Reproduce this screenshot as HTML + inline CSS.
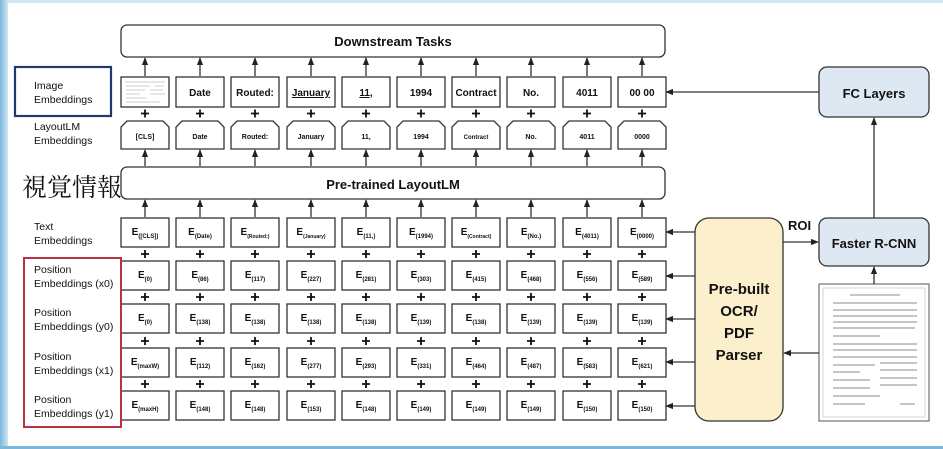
<!DOCTYPE html>
<html><head><meta charset="utf-8"><style>
html,body{margin:0;padding:0;width:943px;height:449px;overflow:hidden;background:#fff}
svg{display:block}
text{font-family:"Liberation Sans","Noto Sans CJK JP",sans-serif;fill:#111}
.b{font-weight:bold}
</style></head><body>
<svg width="943" height="449" viewBox="0 0 943 449" xmlns="http://www.w3.org/2000/svg">
<defs>
<linearGradient id="lg" x1="0" x2="1"><stop offset="0" stop-color="#7fb6dc"/><stop offset="1" stop-color="#cfe6f4"/></linearGradient>
<marker id="ah" viewBox="0 0 10 10" refX="9" refY="5" markerWidth="6" markerHeight="6" orient="auto-start-reverse"><path d="M0,1 L10,5 L0,9 Z" fill="#222"/></marker>
<g id="col" fill="none" stroke="#333" stroke-width="1.3">
<line x1="24" y1="76" x2="24" y2="58" marker-end="url(#ah)"/>
<rect x="0" y="77" width="48" height="30"/>
<path d="M0,149 V127 L6,121 H42 L48,127 V149 Z"/>
<line x1="24" y1="166" x2="24" y2="150" marker-end="url(#ah)"/>
<line x1="24" y1="217" x2="24" y2="200" marker-end="url(#ah)"/>
<rect x="0" y="218" width="48" height="29"/>
<rect x="0" y="261" width="48" height="29"/>
<rect x="0" y="304" width="48" height="29"/>
<rect x="0" y="348" width="48" height="29"/>
<rect x="0" y="391" width="48" height="29"/>
<g stroke="#111" stroke-width="1.8">
<path d="M20,113.5 H28 M24,109.5 V117.5"/>
<path d="M20,254 H28 M24,250 V258"/>
<path d="M20,297 H28 M24,293 V301"/>
<path d="M20,341 H28 M24,337 V345"/>
<path d="M20,384 H28 M24,380 V388"/>
</g>
</g>
</defs>
<rect x="0" y="0" width="943" height="3" fill="#cfe6f4"/>
<rect x="0" y="0" width="8" height="449" fill="url(#lg)"/>
<rect x="0" y="446" width="943" height="3" fill="#7fb6dc"/>

<rect x="121" y="25" width="544" height="32" rx="6" fill="none" stroke="#333" stroke-width="1.3"/>
<text x="393" y="46" font-size="13" class="b" text-anchor="middle">Downstream Tasks</text>
<rect x="121" y="167" width="544" height="32" rx="6" fill="none" stroke="#333" stroke-width="1.3"/>
<text x="393" y="189" font-size="13" class="b" text-anchor="middle">Pre-trained LayoutLM</text>

<use href="#col" x="121"/><use href="#col" x="176"/><use href="#col" x="231"/><use href="#col" x="287"/><use href="#col" x="342"/>
<use href="#col" x="397"/><use href="#col" x="452"/><use href="#col" x="507"/><use href="#col" x="563"/><use href="#col" x="618"/>

<g stroke="#999" stroke-width="0.6"><path d="M125,82 H165 M126,86 H150 M155,86 H164 M126,90 H145 M150,90 H163 M126,94 H140 M150,94 H165 M126,98 H146 M126,102 H160"/></g>

<g font-size="10" class="b" text-anchor="middle">
<text x="200" y="96">Date</text><text x="255" y="96">Routed:</text><text x="311" y="96" text-decoration="underline">January</text>
<text x="366" y="96" text-decoration="underline">11,</text><text x="421" y="96">1994</text><text x="476" y="96">Contract</text>
<text x="531" y="96">No.</text><text x="587" y="96">4011</text><text x="642" y="96">00 00</text>
</g>
<g font-size="7" class="b" text-anchor="middle">
<text x="145" y="139">[CLS]</text><text x="200" y="139">Date</text><text x="255" y="139">Routed:</text><text x="311" y="139">January</text>
<text x="366" y="139">11,</text><text x="421" y="139">1994</text><text x="476" y="139" font-size="6">Contract</text>
<text x="531" y="139">No.</text><text x="587" y="139">4011</text><text x="642" y="139">0000</text>
</g>
<g font-size="10" class="b" text-anchor="middle">
<text x="145" y="235">E<tspan font-size="6" dy="3">([CLS])</tspan></text>
<text x="200" y="235">E<tspan font-size="6" dy="3">(Date)</tspan></text>
<text x="255" y="235">E<tspan font-size="5" dy="3">(Routed:)</tspan></text>
<text x="311" y="235">E<tspan font-size="5" dy="3">(January)</tspan></text>
<text x="366" y="235">E<tspan font-size="6" dy="3">(11,)</tspan></text>
<text x="421" y="235">E<tspan font-size="6" dy="3">(1994)</tspan></text>
<text x="476" y="235">E<tspan font-size="5" dy="3">(Contract)</tspan></text>
<text x="531" y="235">E<tspan font-size="6" dy="3">(No.)</tspan></text>
<text x="587" y="235">E<tspan font-size="6" dy="3">(4011)</tspan></text>
<text x="642" y="235">E<tspan font-size="6" dy="3">(0000)</tspan></text>

<text x="145" y="278">E<tspan font-size="6" dy="3">(0)</tspan></text>
<text x="200" y="278">E<tspan font-size="6" dy="3">(86)</tspan></text>
<text x="255" y="278">E<tspan font-size="6" dy="3">(117)</tspan></text>
<text x="311" y="278">E<tspan font-size="6" dy="3">(227)</tspan></text>
<text x="366" y="278">E<tspan font-size="6" dy="3">(281)</tspan></text>
<text x="421" y="278">E<tspan font-size="6" dy="3">(303)</tspan></text>
<text x="476" y="278">E<tspan font-size="6" dy="3">(415)</tspan></text>
<text x="531" y="278">E<tspan font-size="6" dy="3">(468)</tspan></text>
<text x="587" y="278">E<tspan font-size="6" dy="3">(556)</tspan></text>
<text x="642" y="278">E<tspan font-size="6" dy="3">(589)</tspan></text>

<text x="145" y="321">E<tspan font-size="6" dy="3">(0)</tspan></text>
<text x="200" y="321">E<tspan font-size="6" dy="3">(138)</tspan></text>
<text x="255" y="321">E<tspan font-size="6" dy="3">(138)</tspan></text>
<text x="311" y="321">E<tspan font-size="6" dy="3">(138)</tspan></text>
<text x="366" y="321">E<tspan font-size="6" dy="3">(138)</tspan></text>
<text x="421" y="321">E<tspan font-size="6" dy="3">(139)</tspan></text>
<text x="476" y="321">E<tspan font-size="6" dy="3">(138)</tspan></text>
<text x="531" y="321">E<tspan font-size="6" dy="3">(139)</tspan></text>
<text x="587" y="321">E<tspan font-size="6" dy="3">(139)</tspan></text>
<text x="642" y="321">E<tspan font-size="6" dy="3">(139)</tspan></text>

<text x="145" y="365">E<tspan font-size="6" dy="3">(maxW)</tspan></text>
<text x="200" y="365">E<tspan font-size="6" dy="3">(112)</tspan></text>
<text x="255" y="365">E<tspan font-size="6" dy="3">(162)</tspan></text>
<text x="311" y="365">E<tspan font-size="6" dy="3">(277)</tspan></text>
<text x="366" y="365">E<tspan font-size="6" dy="3">(293)</tspan></text>
<text x="421" y="365">E<tspan font-size="6" dy="3">(331)</tspan></text>
<text x="476" y="365">E<tspan font-size="6" dy="3">(464)</tspan></text>
<text x="531" y="365">E<tspan font-size="6" dy="3">(487)</tspan></text>
<text x="587" y="365">E<tspan font-size="6" dy="3">(583)</tspan></text>
<text x="642" y="365">E<tspan font-size="6" dy="3">(621)</tspan></text>

<text x="145" y="408">E<tspan font-size="6" dy="3">(maxH)</tspan></text>
<text x="200" y="408">E<tspan font-size="6" dy="3">(148)</tspan></text>
<text x="255" y="408">E<tspan font-size="6" dy="3">(148)</tspan></text>
<text x="311" y="408">E<tspan font-size="6" dy="3">(153)</tspan></text>
<text x="366" y="408">E<tspan font-size="6" dy="3">(148)</tspan></text>
<text x="421" y="408">E<tspan font-size="6" dy="3">(149)</tspan></text>
<text x="476" y="408">E<tspan font-size="6" dy="3">(149)</tspan></text>
<text x="531" y="408">E<tspan font-size="6" dy="3">(149)</tspan></text>
<text x="587" y="408">E<tspan font-size="6" dy="3">(150)</tspan></text>
<text x="642" y="408">E<tspan font-size="6" dy="3">(150)</tspan></text>
</g>

<rect x="15" y="67" width="96" height="49" fill="none" stroke="#1f3a6e" stroke-width="2.2"/>
<rect x="24" y="258" width="97" height="169" fill="none" stroke="#b8333f" stroke-width="2"/>
<g font-size="10.5">
<text x="34" y="89">Image</text><text x="34" y="103">Embeddings</text>
<text x="34" y="130">LayoutLM</text><text x="34" y="144">Embeddings</text>
<text x="34" y="230">Text</text><text x="34" y="244">Embeddings</text>
<text x="34" y="273">Position</text><text x="34" y="287">Embeddings (x0)</text>
<text x="34" y="316">Position</text><text x="34" y="330">Embeddings (y0)</text>
<text x="34" y="360">Position</text><text x="34" y="374">Embeddings (x1)</text>
<text x="34" y="403">Position</text><text x="34" y="417">Embeddings (y1)</text>
</g>
<text x="22" y="196" font-size="25" style="font-family:'Noto Serif CJK SC','Noto Sans CJK JP',serif">視覚情報</text>

<rect x="695" y="218" width="88" height="203" rx="14" fill="#fcefcc" stroke="#333" stroke-width="1.3"/>
<g font-size="15" class="b" text-anchor="middle">
<text x="739" y="294">Pre-built</text><text x="739" y="316">OCR/</text><text x="739" y="338">PDF</text><text x="739" y="360">Parser</text>
</g>
<rect x="819" y="67" width="110" height="50" rx="8" fill="#dde8f3" stroke="#333" stroke-width="1.3"/>
<text x="874" y="98" font-size="13" class="b" text-anchor="middle">FC Layers</text>
<rect x="819" y="218" width="110" height="48" rx="8" fill="#dde8f3" stroke="#333" stroke-width="1.3"/>
<text x="874" y="248" font-size="13" class="b" text-anchor="middle">Faster R-CNN</text>
<text x="788" y="230" font-size="13" class="b">ROI</text>
<rect x="819" y="284" width="110" height="137" fill="#fff" stroke="#555" stroke-width="1"/>
<rect x="823" y="288" width="102" height="129" fill="none" stroke="#bbb" stroke-width="0.6"/>
<g stroke="#666" stroke-width="0.7">
<path d="M850,295 H900 M833,303 H917 M833,310 H917 M833,316 H917 M833,322 H917 M833,328 H915 M833,336 H880 M833,344 H917 M833,350 H917 M833,357 H917 M833,365 H875 M880,363 H917 M833,372 H860 M880,370 H917 M833,380 H870 M880,378 H917 M833,388 H870 M880,385 H917 M833,396 H880 M833,404 H865 M900,404 H915"/>
</g>
<g stroke="#333" stroke-width="1.3" fill="none">
<line x1="819" y1="92" x2="666" y2="92" marker-end="url(#ah)"/>
<line x1="874" y1="218" x2="874" y2="118" marker-end="url(#ah)"/>
<line x1="874" y1="284" x2="874" y2="267" marker-end="url(#ah)"/>
<line x1="783" y1="242" x2="818" y2="242" marker-end="url(#ah)"/>
<line x1="819" y1="353" x2="784" y2="353" marker-end="url(#ah)"/>
<line x1="695" y1="232" x2="666" y2="232" marker-end="url(#ah)"/>
<line x1="695" y1="276" x2="666" y2="276" marker-end="url(#ah)"/>
<line x1="695" y1="319" x2="666" y2="319" marker-end="url(#ah)"/>
<line x1="695" y1="362" x2="666" y2="362" marker-end="url(#ah)"/>
<line x1="695" y1="406" x2="666" y2="406" marker-end="url(#ah)"/>
</g>
</svg>
</body></html>
